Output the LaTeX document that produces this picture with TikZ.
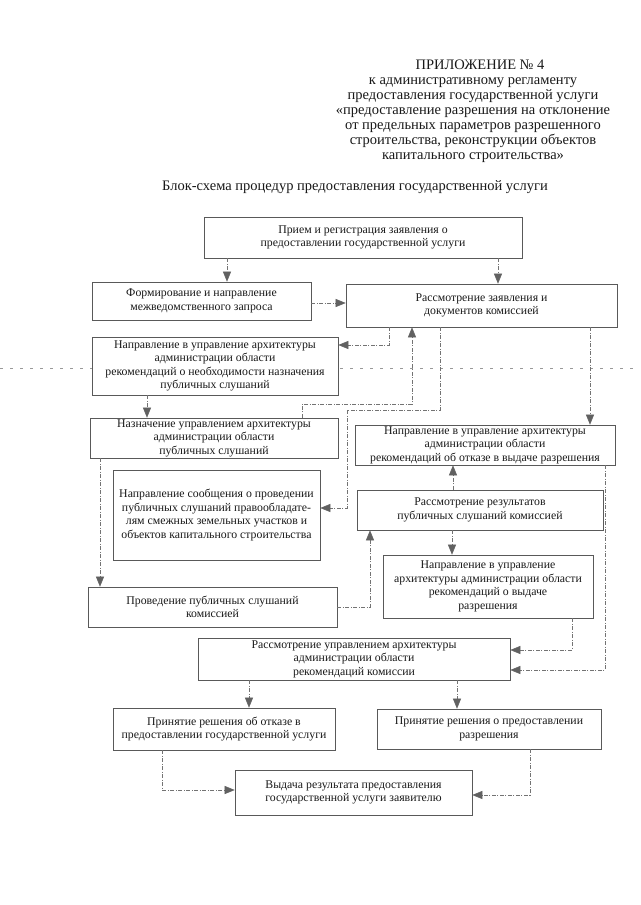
\documentclass[tikz,border=0pt]{standalone}
\usepackage{fontspec}
\setmainfont{Liberation Serif}
\usetikzlibrary{arrows.meta}
\begin{document}
\begin{tikzpicture}[x=1pt,y=-1pt,
  box/.style={draw=black!65, line width=0.6pt, fill=white, align=center, inner sep=0pt,
    text=black!90, font=\fontsize{11.8}{13.5}\selectfont},
  conn/.style={draw=black!55, line width=0.5pt, dash pattern=on 4pt off 1.5pt on 1pt off 1.5pt,
    -{Triangle[length=10pt,width=8pt,color=black!62]}},
  hdr/.style={align=center, inner sep=0pt, text=black!90, font=\fontsize{14.5}{15}\selectfont}]
\useasboundingbox (0,0) rectangle (640,905);
\fill[white] (0,0) rectangle (640,905);
% fold line
\draw[black!40, line width=0.4pt, dash pattern=on 3pt off 7pt] (0,368) -- (640,368);

% header
\node[hdr] (h1) at (480,65) {ПРИЛОЖЕНИЕ № 4};
\node[hdr] (h2) at (473,120) {к административному регламенту\\предоставления государственной услуги\\«предоставление разрешения на отклонение\\от предельных параметров разрешенного\\строительства, реконструкции объектов\\капитального строительства»};
\node[hdr] (title) at (355,187) {Блок-схема процедур предоставления государственной услуги};

% boxes
\node[box, minimum width=318pt, minimum height=41pt] (b1) at (363,237.5) {Прием и регистрация заявления о\\предоставлении государственной услуги};
\node[box, minimum width=219pt, minimum height=38pt] (b2) at (201.5,301) {Формирование и направление\\межведомственного запроса};
\node[box, minimum width=271pt, minimum height=43pt] (b3) at (481.5,305.5) {Рассмотрение заявления и\\документов комиссией};
\node[box, minimum width=246pt, minimum height=58pt] (b4) at (215,366) {Направление в управление архитектуры\\администрации области\\рекомендаций о необходимости назначения\\публичных слушаний};
\node[box, minimum width=248pt, minimum height=40pt] (b5) at (214,438) {Назначение управлением архитектуры\\администрации области\\публичных слушаний};
\node[box, minimum width=260pt, minimum height=40pt] (b6) at (485,445) {Направление в управление архитектуры\\администрации области\\рекомендаций об отказе в выдаче разрешения};
\node[box, minimum width=207pt, minimum height=90pt] (b7) at (216.5,515) {Направление сообщения о проведении\\публичных слушаний правообладате-\\лям смежных земельных участков и\\объектов капитального строительства};
\node[box, minimum width=246pt, minimum height=40pt] (b8) at (480,510) {Рассмотрение результатов\\публичных слушаний комиссией};
\node[box, minimum width=210pt, minimum height=63pt] (b9) at (488,586.5) {Направление в управление\\архитектуры администрации области\\рекомендаций о выдаче\\разрешения};
\node[box, minimum width=249pt, minimum height=40pt] (b10) at (212.5,607) {Проведение публичных слушаний\\комиссией};
\node[box, minimum width=312pt, minimum height=42pt] (b11) at (354,659) {Рассмотрение управлением архитектуры\\администрации области\\рекомендаций комиссии};
\node[box, minimum width=222pt, minimum height=42pt] (b12) at (224,729) {Принятие решения об отказе в\\предоставлении государственной услуги};
\node[box, minimum width=224pt, minimum height=40pt] (b13) at (489,729) {Принятие решения о предоставлении\\разрешения};
\node[box, minimum width=237pt, minimum height=45pt] (b14) at (353.5,792.5) {Выдача результата предоставления\\государственной услуги заявителю};

% connectors
\draw[conn] (b1.south -| 227,0) -- (b2.north -| 227,0);
\draw[conn] (b1.south -| 498,0) -- (b3.north -| 498,0);
\draw[conn] (b2.east |- 0,303) -- (b3.west |- 0,303);
\draw[conn] (b3.south -| 389,0) -- (389,345) -- (b4.east |- 0,345);
\draw[conn] (b4.south -| 147,0) -- (b5.north -| 147,0);
\draw[conn] (b5.north -| 302,0) -- (302,404) -- (412,404) -- (b3.south -| 412,0);
\draw[conn] (b3.south -| 440,0) -- (440,410) -- (347,410) -- (347,508) -- (b7.east |- 0,508);
\draw[conn] (b3.south -| 590,0) -- (b6.north -| 590,0);
\draw[conn] (b5.south -| 100,0) -- (b10.north -| 100,0);
\draw[conn] (b10.east |- 0,607) -- (370,607) -- (b8.south -| 370,0);
\draw[conn] (b8.north -| 453,0) -- (b6.south -| 453,0);
\draw[conn] (b8.south -| 452,0) -- (b9.north -| 452,0);
\draw[conn] (b9.south -| 572,0) -- (572,650) -- (b11.east |- 0,650);
\draw[conn] (b6.south -| 605,0) -- (605,670) -- (b11.east |- 0,670);
\draw[conn] (b11.south -| 249,0) -- (b12.north -| 249,0);
\draw[conn] (b11.south -| 457,0) -- (b13.north -| 457,0);
\draw[conn] (b12.south -| 162,0) -- (162,790) -- (b14.west |- 0,790);
\draw[conn] (b13.south -| 530,0) -- (530,795) -- (b14.east |- 0,795);
\end{tikzpicture}
\end{document}
